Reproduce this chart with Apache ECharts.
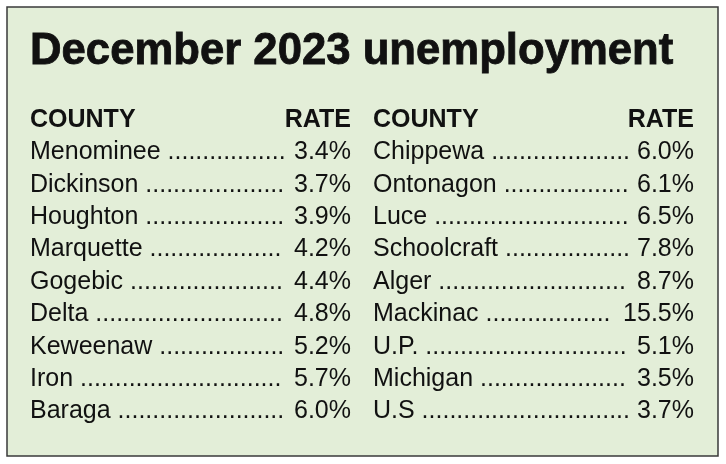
<!DOCTYPE html>
<html><head><meta charset="utf-8">
<script src="https://cdn.jsdelivr.net/npm/echarts@6/dist/echarts.min.js"></script>
<style>html,body{margin:0;padding:0;background:#fff}#c{width:726px;height:464px}</style>
</head><body><div id="c"></div>
<script>
const title = "December 2023 unemployment";
const headers = ["COUNTY", "RATE"];
const leftCounties = ["Menominee","Dickinson","Houghton","Marquette","Gogebic","Delta","Keweenaw","Iron","Baraga"];
const leftRates = [3.4,3.7,3.9,4.2,4.4,4.8,5.2,5.7,6.0];
const rightCounties = ["Chippewa","Ontonagon","Luce","Schoolcraft","Alger","Mackinac","U.P.","Michigan","U.S"];
const rightRates = [6.0,6.1,6.5,7.8,8.7,15.5,5.1,3.5,3.7];

const font = '"Liberation Sans", Arial, sans-serif';
const bodySize = 25;
const ctx = document.createElement('canvas').getContext('2d');
function tw(s, size, weight){ ctx.font = (weight||'normal') + ' ' + size + 'px ' + font; return ctx.measureText(s).width; }

const els = [];
els.push({type:'rect', shape:{x:7,y:7,width:711,height:449}, style:{fill:'#e3eed8', stroke:'#3a3a3a', lineWidth:1.5}});
els.push({type:'text', x:30, y:74, scaleX:1.04, scaleY:1.05, style:{text:title, font:'bold 42px '+font, fill:'#111', textVerticalAlign:'bottom', stroke:'#111', lineWidth:0.8}});
const cols = [{x0:30, x1:351, c:leftCounties, r:leftRates},{x0:373, x1:694, c:rightCounties, r:rightRates}];
const rowY0 = 120, dy = 32.4;
cols.forEach(col => {
  els.push({type:'text', x:col.x0, y:rowY0, style:{text:headers[0], font:'bold '+bodySize+'px '+font, fill:'#111', textVerticalAlign:'middle'}});
  els.push({type:'text', x:col.x1, y:rowY0, style:{text:headers[1], font:'bold '+bodySize+'px '+font, fill:'#111', textAlign:'right', textVerticalAlign:'middle'}});
  col.c.forEach((name, i) => {
    const y = rowY0 + dy*(i+1);
    const rate = col.r[i].toFixed(1) + '%';
    const wn = tw(name + ' ', bodySize), wr = tw(' ' + rate, bodySize), wd = tw('.', bodySize);
    const n = Math.max(0, Math.floor((col.x1 - col.x0 - wn - wr) / wd));
    els.push({type:'text', x:col.x0, y:y, style:{text:name + ' ' + '.'.repeat(n), font:bodySize+'px '+font, fill:'#111', textVerticalAlign:'middle'}});
    els.push({type:'text', x:col.x1, y:y, style:{text:rate, font:bodySize+'px '+font, fill:'#111', textAlign:'right', textVerticalAlign:'middle'}});
  });
});
const chart = echarts.init(document.getElementById('c'));
chart.setOption({graphic:{elements:els}});
</script></body></html>
